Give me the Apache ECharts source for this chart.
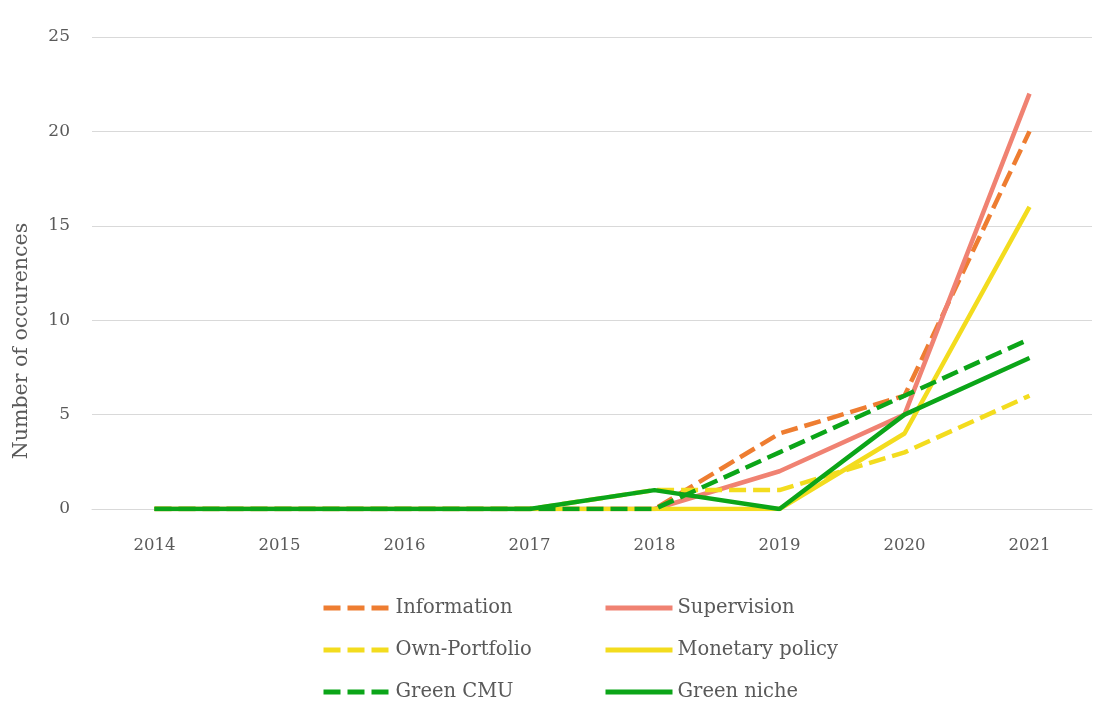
<!DOCTYPE html>
<html>
<head>
<meta charset="utf-8">
<script src="https://cdn.jsdelivr.net/npm/echarts@6/dist/echarts.min.js"></script>
<style>
    html, body { margin: 0; padding: 0; background: #fff; }
    #chart { width: 1107px; height: 713px; }
</style>
</head>
<body>
<div id="chart"></div>
<script>
    // years on the x axis
    var years = ['2014', '2015', '2016', '2017', '2018', '2019', '2020', '2021'];

    // occurences per topic
    var information = [0, 0, 0, 0, 0, 4, 6, 20];
    var supervision = [0, 0, 0, 0, 0, 2, 5, 22];
    var ownPortfolio = [0, 0, 0, 0, 1, 1, 3, 6];
    var monetaryPolicy = [0, 0, 0, 0, 0, 0, 4, 16];
    var greenCmu = [0, 0, 0, 0, 0, 3, 6, 9];
    var greenNiche = [0, 0, 0, 0, 1, 0, 5, 8];

    var seriesNames = ['Information', 'Supervision', 'Own-Portfolio', 'Monetary policy', 'Green CMU', 'Green niche'];
    var yTicks = [0, 5, 10, 15, 20, 25];

    var font = 'DejaVu Serif';
    var dash = [17, 7];

    function makeLine(name, data, color, dashed) {
        return {
            name: name,
            type: 'line',
            data: data,
            symbol: 'none',
            animation: false,
            lineStyle: {
                color: color,
                width: 4.5,
                type: dashed ? dash : 'solid'
            },
            itemStyle: {color: color}
        };
    }

    // one legend per entry so the two columns line up
    function makeLegend(name, left, top) {
        return {
            data: [name],
            left: left,
            top: top,
            padding: 0,
            itemWidth: 67,
            itemHeight: 1,   // keeps the legend symbol hidden under the line
            itemGap: 5,
            lineStyle: {width: 5},
            textStyle: {fontFamily: font, fontSize: 19.5, color: '#595959'}
        };
    }

    var myChart = echarts.init(document.getElementById('chart'));
    var option = {
        backgroundColor: '#fff',
        grid: {
            left: 92,
            right: 15,
            top: 37,
            bottom: 204
        },
        legend: [
            makeLegend(seriesNames[0], 321, 598),
            makeLegend(seriesNames[1], 603, 598),
            makeLegend(seriesNames[2], 321, 640),
            makeLegend(seriesNames[3], 603, 640),
            makeLegend(seriesNames[4], 321, 682),
            makeLegend(seriesNames[5], 603, 682)
        ],
        graphic: [
            {
                type: 'text',
                x: 22,
                y: 341,
                rotation: Math.PI / 2,
                style: {
                    text: 'Number of occurences',
                    fontFamily: font,
                    fontSize: 20.5,
                    fill: '#595959',
                    align: 'center',
                    verticalAlign: 'middle'
                }
            }
        ],
        xAxis: {
            type: 'category',
            data: years,
            boundaryGap: true,
            axisLine: {lineStyle: {color: '#D9D9D9', width: 1}},
            axisTick: {show: false},
            axisLabel: {fontFamily: font, fontSize: 16.5, color: '#595959', margin: 28}
        },
        yAxis: {
            type: 'value',
            min: yTicks[0],
            max: yTicks[yTicks.length - 1],
            interval: 5,
            axisLine: {show: false},
            axisTick: {show: false},
            splitLine: {lineStyle: {color: '#D9D9D9', width: 1}},
            axisLabel: {fontFamily: font, fontSize: 17, color: '#595959', margin: 22}
        },
        series: [
            makeLine(seriesNames[0], information, '#EE7D31', true),
            makeLine(seriesNames[1], supervision, '#F08272', false),
            makeLine(seriesNames[2], ownPortfolio, '#F3DC1E', true),
            makeLine(seriesNames[3], monetaryPolicy, '#F3DC1E', false),
            makeLine(seriesNames[4], greenCmu, '#0BA518', true),
            makeLine(seriesNames[5], greenNiche, '#0BA518', false)
        ]
    };
    myChart.setOption(option);
</script>
</body>
</html>
